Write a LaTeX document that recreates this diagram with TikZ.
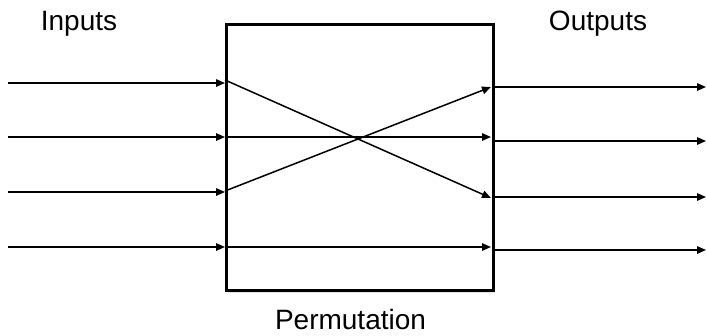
\documentclass[tikz,border=0pt]{standalone}
\usepackage{fontspec}
\setmainfont{Liberation Sans}
\usetikzlibrary{arrows.meta,shadows}
\begin{document}
\begin{tikzpicture}[x=1pt,y=-1pt,
  wire/.style={line width=1.5pt,-{Triangle[length=9pt,width=7.5pt]}},
  inner/.style={line width=1.5pt,-{Triangle[length=9pt,width=7.5pt]}},
  lbl/.style={font=\fontsize{28}{32}\selectfont,anchor=base,inner sep=0pt},
  permbox/.style={draw,line width=3.3pt,fill=white,
    drop shadow={shadow xshift=1.5pt,shadow yshift=-2.5pt,opacity=0.22}}]
\useasboundingbox (0,0) rectangle (707,335);
\node[permbox,minimum width=267pt,minimum height=266pt,inner sep=0pt,anchor=north west] (box) at (225,23) {};
% labels
\node[lbl] (tin) at (79,30) {Inputs};
\node[lbl] (tout) at (598,30) {Outputs};
\node[lbl] (tperm) at (350.5,329) {Permutation};
% input start coordinates
\coordinate (i1) at (8,83);
\coordinate (i2) at (8,137);
\coordinate (i3) at (8,192);
\coordinate (i4) at (8,247);
\coordinate (l1) at (225,83);
\coordinate (l2) at (225,137);
\coordinate (l3) at (225,192);
\coordinate (l4) at (225,247);
% inner starts
\coordinate (s1) at (225,80);
\coordinate (s2) at (225,137);
\coordinate (s3) at (225,191);
\coordinate (s4) at (225,247);
% inner ends
\coordinate (e1) at (491,87);
\coordinate (e2) at (491,137);
\coordinate (e3) at (491,198);
\coordinate (e4) at (491,247);
% outputs
\coordinate (o1) at (492,87);
\coordinate (o2) at (492,141);
\coordinate (o3) at (492,197);
\coordinate (o4) at (492,250);
\coordinate (r1) at (706,87);
\coordinate (r2) at (706,141);
\coordinate (r3) at (706,197);
\coordinate (r4) at (706,250);
\foreach \k in {1,2,3,4} {
  \draw[wire] (i\k) -- (l\k);
  \draw[wire] (o\k) -- (r\k);
}
\draw[inner] (s1) -- (e3);
\draw[inner] (s2) -- (e2);
\draw[inner] (s3) -- (e1);
\draw[inner] (s4) -- (e4);
\end{tikzpicture}
\end{document}
